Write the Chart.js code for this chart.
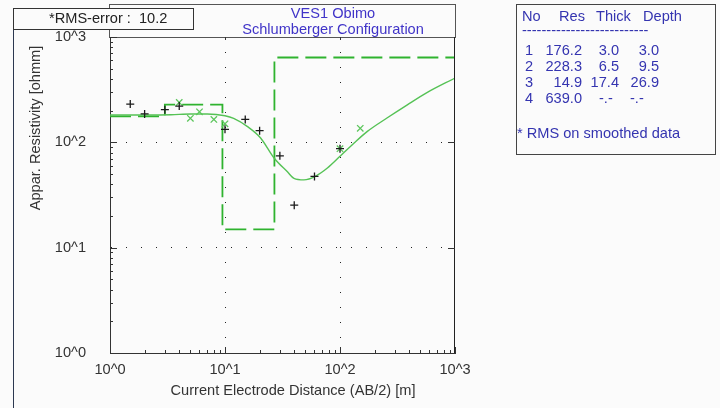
<!DOCTYPE html>
<html>
<head>
<meta charset="utf-8">
<script src="https://cdn.jsdelivr.net/npm/chart.js@4.4.1/dist/chart.umd.min.js"></script>
<style>
  html, body { margin: 0; padding: 0; background: #fbfbfb; }
  #wrap { position: relative; width: 720px; height: 408px; }
</style>
</head>
<body>
<div id="wrap"><canvas id="vesChart" width="720" height="408"></canvas></div>
<script>
// Field readings: AB/2 [m] vs apparent resistivity [ohm-m]
const measuredAB  = [1.5, 2, 3, 4, 10, 15, 20, 30, 40, 60, 100];
const measuredRho = [231, 186, 204, 221, 133, 165, 129, 74.5, 25.3, 47.5, 87];

// Smoothed readings
const smoothedAB  = [4, 5, 6, 8, 10, 100, 150];
const smoothedRho = [239, 169, 195, 165, 150, 87, 136];

// Calculated response of the layered model
const curveAB  = [1, 2, 3.4, 5, 7, 10, 11.9, 15.7, 20.4, 26.7, 34.9, 39.8, 48.6, 61.5, 77.7, 100, 132, 173, 258, 385, 575, 1000];
const curveRho = [182, 182, 183, 186, 186, 179, 169, 141, 110, 71, 52.5, 45.5, 44, 47.8, 57, 73.6, 98, 127, 171, 227, 298, 408];

// Interpreted layers
const layerNo    = [1, 2, 3, 4];
const layerRes   = [176.2, 228.3, 14.9, 639.0];
const layerThick = [3.0, 6.5, 17.4];
const layerDepth = [3.0, 9.5, 26.9];
const rmsError   = 10.2;

const decadeLabels = ['10^0', '10^1', '10^2', '10^3'];
const titleLines   = ['VES1 Obimo', 'Schlumberger Configuration'];

const FONT = '14.6px "Liberation Sans", Arial, sans-serif';
const AXIS_MIN = 1, AXIS_MAX = 1000;

// 1..9, 10..90, 100..900, 1000
const logTicks = [];
for (let e = 0; e < 3; e++) for (let k = 1; k < 10; k++) logTicks.push(k * Math.pow(10, e));
logTicks.push(AXIS_MAX);

const isDecade = v => Math.abs(Math.log10(v) - Math.round(Math.log10(v))) < 1e-9;

// step outline of the layer model
const layerPts = [{ x: AXIS_MIN, y: layerRes[0] }];
layerDepth.forEach((d, i) => layerPts.push({ x: d, y: layerRes[i + 1] }));
layerPts.push({ x: AXIS_MAX, y: layerRes[layerRes.length - 1] });

const zip = (xs, ys) => xs.map((x, i) => ({ x, y: ys[i] }));

const frame = {
  id: 'frame',
  beforeDraw(chart) {
    const ctx = chart.ctx;
    ctx.save();
    ctx.fillStyle = '#fbfbfb';
    ctx.fillRect(0, 0, chart.width, chart.height);
    ctx.lineWidth = 1;
    // outer left edge
    ctx.strokeStyle = '#2c3850';
    ctx.beginPath();
    ctx.moveTo(13.5, 8);
    ctx.lineTo(13.5, 408);
    ctx.stroke();
    // title panel
    ctx.strokeStyle = '#555';
    ctx.strokeRect(109.5, 4.5, 346, 33);
    // layer table panel
    ctx.strokeStyle = '#444';
    ctx.strokeRect(516.5, 4.5, 199, 150);
    ctx.restore();
  },
  afterDraw(chart) {
    const ctx = chart.ctx;
    const a = chart.chartArea;
    const xs = chart.scales.x, ys = chart.scales.y;
    ctx.save();
    ctx.lineWidth = 1;

    // right edge of plot
    ctx.strokeStyle = '#222';
    ctx.beginPath();
    ctx.moveTo(Math.round(a.right) - 0.5, a.top);
    ctx.lineTo(Math.round(a.right) - 0.5, a.bottom);
    ctx.stroke();

    // inward tick marks
    ctx.strokeStyle = '#333';
    ctx.beginPath();
    logTicks.forEach(v => {
      const major = isDecade(v);
      const px = Math.round(xs.getPixelForValue(v)) + 0.5;
      const py = Math.round(ys.getPixelForValue(v)) + 0.5;
      ctx.moveTo(px, a.bottom);
      ctx.lineTo(px, a.bottom - (major ? 6 : 3));
      ctx.moveTo(a.left, py);
      ctx.lineTo(a.left + (major ? 7 : 3), py);
      if (major && v > AXIS_MIN && v < AXIS_MAX) {
        ctx.moveTo(a.right, py);
        ctx.lineTo(a.right - 7, py);
        ctx.moveTo(px, a.top);
        ctx.lineTo(px, a.top + 3);
      }
    });
    ctx.stroke();

    // RMS box
    ctx.fillStyle = '#fbfbfb';
    ctx.fillRect(13.5, 8.5, 180, 21);
    ctx.strokeStyle = '#333';
    ctx.strokeRect(13.5, 8.5, 180, 21);
    ctx.font = FONT;
    ctx.textBaseline = 'middle';
    ctx.fillStyle = '#222';
    ctx.textAlign = 'left';
    ctx.fillText('*RMS-error :  ' + rmsError.toFixed(1), 49, 19);

    // title
    ctx.fillStyle = '#4034c8';
    ctx.textAlign = 'center';
    ctx.fillText(titleLines[0], 333, 14);
    ctx.fillText(titleLines[1], 333, 30);

    // axis titles
    ctx.fillStyle = '#333';
    ctx.fillText('Current Electrode Distance (AB/2) [m]', 293, 391);
    ctx.save();
    ctx.translate(36, 128);
    ctx.rotate(-Math.PI / 2);
    ctx.fillText('Appar. Resistivity [ohmm]', 0, 0);
    ctx.restore();

    // layer table
    ctx.fillStyle = '#3434b0';
    ctx.textAlign = 'left';
    ctx.fillText('No', 522, 17);
    ctx.fillText('Res', 559, 17);
    ctx.fillText('Thick', 596, 17);
    ctx.fillText('Depth', 643, 17);
    ctx.fillText('-'.repeat(26), 522, 31);
    layerNo.forEach((n, i) => {
      const y = 51 + 16 * i;
      ctx.textAlign = 'right';
      ctx.fillText(String(n), 533, y);
      ctx.fillText(layerRes[i].toFixed(1), 582, y);
      if (i < layerThick.length) {
        ctx.fillText(layerThick[i].toFixed(1), 619, y);
        ctx.fillText(layerDepth[i].toFixed(1), 659, y);
      } else {
        ctx.textAlign = 'left';
        ctx.fillText('-.-', 599, y);
        ctx.fillText('-.-', 630, y);
      }
    });
    ctx.textAlign = 'left';
    ctx.fillText('* RMS on smoothed data', 517, 134);
    ctx.restore();
  }
};

const gridColor = ctx => {
  const v = ctx.tick && ctx.tick.value;
  return (v === 10 || v === 100) ? '#222' : 'rgba(0,0,0,0)';
};

const logAxis = (fitKey, fitVal, pad) => ({
  type: 'logarithmic',
  min: AXIS_MIN,
  max: AXIS_MAX,
  afterBuildTicks: scale => {
    scale.ticks = logTicks.map(v => ({ value: v, major: isDecade(v) }));
  },
  afterFit: scale => { scale[fitKey] = fitVal; },
  ticks: {
    autoSkip: false,
    maxRotation: 0,
    padding: pad,
    color: '#333',
    font: { family: '"Liberation Sans", Arial, sans-serif', size: 14.6 },
    callback: v => isDecade(v) ? decadeLabels[Math.round(Math.log10(v))] : ''
  },
  grid: { drawTicks: false, color: gridColor, lineWidth: 1 },
  border: { display: true, color: '#333', width: 1, dash: [1, 14] }
});

new Chart(document.getElementById('vesChart'), {
  type: 'scatter',
  data: {
    datasets: [
      {
        label: 'measured',
        data: zip(measuredAB, measuredRho),
        pointStyle: 'cross',
        pointRadius: 4,
        borderColor: '#1a1a1a',
        borderWidth: 1.3,
        showLine: false,
        order: 0
      },
      {
        label: 'smoothed',
        data: zip(smoothedAB, smoothedRho),
        pointStyle: 'crossRot',
        pointRadius: 4.5,
        borderColor: '#5cc65c',
        borderWidth: 1.3,
        showLine: false,
        order: 1
      },
      {
        label: 'model response',
        data: zip(curveAB, curveRho),
        showLine: true,
        pointRadius: 0,
        borderColor: '#55c255',
        borderWidth: 1.4,
        cubicInterpolationMode: 'monotone',
        order: 2
      },
      {
        label: 'layers',
        data: layerPts,
        showLine: true,
        stepped: 'before',
        pointRadius: 0,
        borderColor: '#2fb32f',
        borderWidth: 1.8,
        borderDash: [21, 7],
        order: 3
      }
    ]
  },
  options: {
    responsive: false,
    animation: false,
    events: [],
    layout: { padding: { left: 0, top: 37, right: 265, bottom: 0 } },
    plugins: { legend: { display: false }, tooltip: { enabled: false } },
    scales: {
      x: logAxis('height', 55, 8),
      y: logAxis('width', 110, 24)
    }
  },
  plugins: [frame]
});
</script>
</body>
</html>
